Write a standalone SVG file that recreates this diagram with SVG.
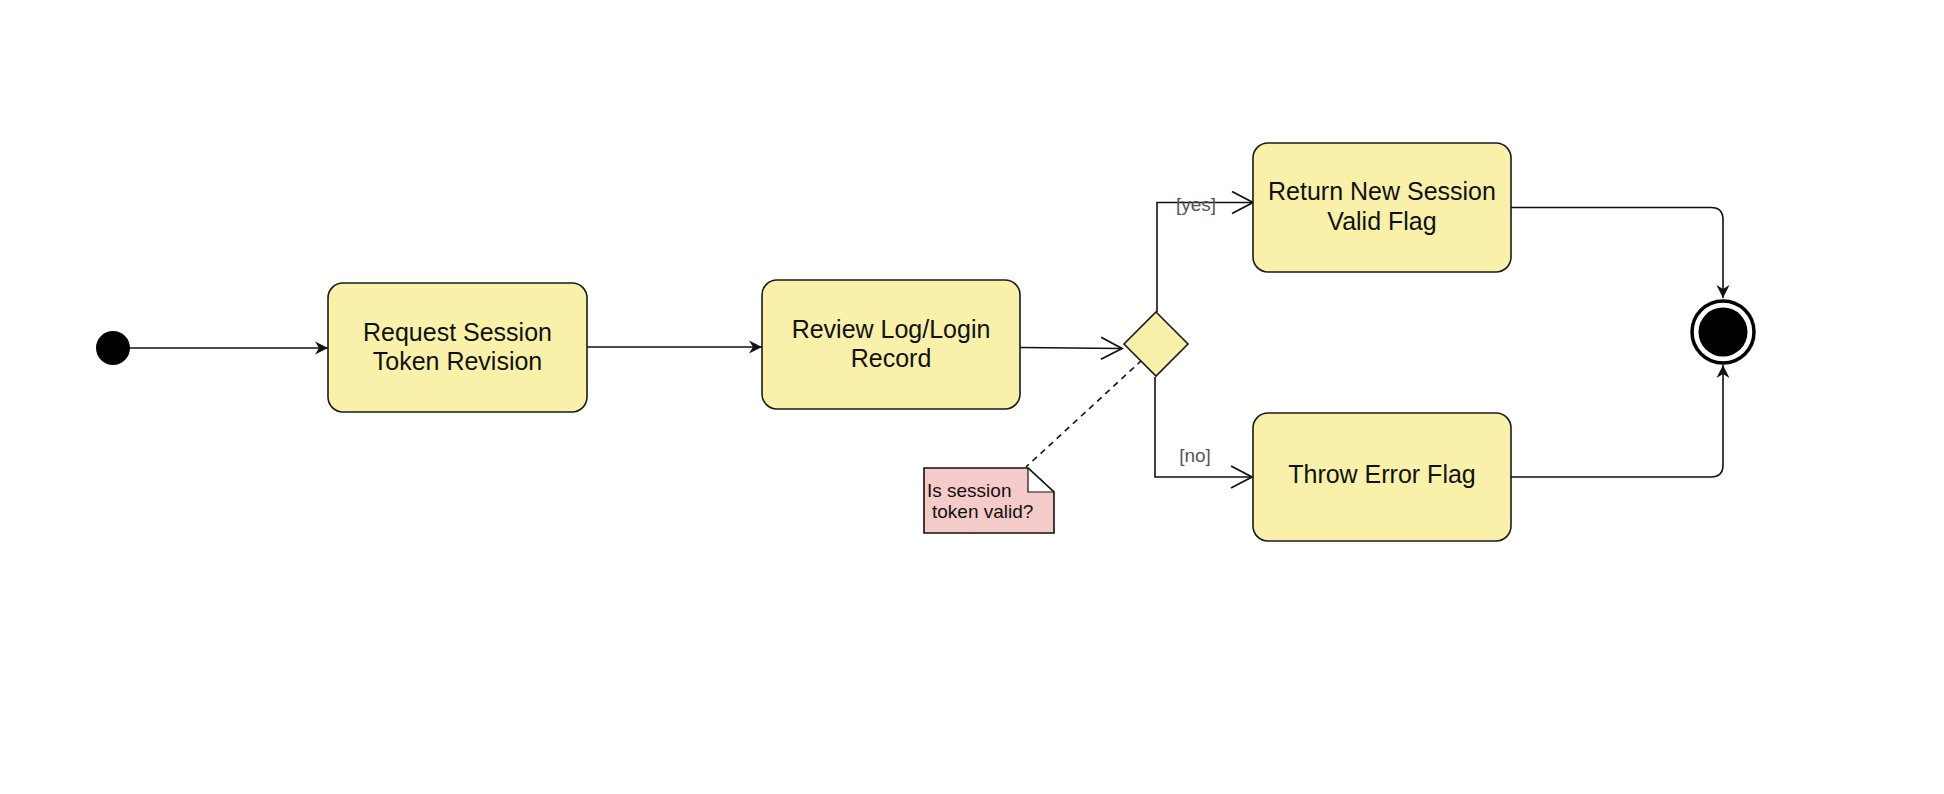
<svg xmlns="http://www.w3.org/2000/svg" width="1944" height="794" viewBox="0 0 1944 794">
<style>
.act{fill:#F9F1AA;stroke:#1a1a1a;stroke-width:1.6}
.t{font-family:"Liberation Sans",Arial,sans-serif;font-size:25px;fill:#111;text-anchor:middle}
.lbl{font-family:"Liberation Sans",Arial,sans-serif;font-size:19px;fill:#555;text-anchor:middle}
.nt{font-family:"Liberation Sans",Arial,sans-serif;font-size:19px;fill:#111}
.ln{fill:none;stroke:#111;stroke-width:1.6}
.dash{fill:none;stroke:#111;stroke-width:1.6;stroke-dasharray:6,5}
</style>
<defs>
<marker id="fill" markerWidth="16" markerHeight="16" refX="13" refY="7" orient="auto" markerUnits="userSpaceOnUse" viewBox="0 0 16 14">
<path d="M13,7 L0,0.5 L4,7 L0,13.5 Z" fill="#111"/>
</marker>
<marker id="open" markerWidth="26" markerHeight="26" refX="22" refY="12" orient="auto" markerUnits="userSpaceOnUse" viewBox="0 0 26 24">
<path d="M1,1 L22,12 L1,23" fill="none" stroke="#111" stroke-width="1.8"/>
</marker>
</defs>
<rect width="1944" height="794" fill="#fff"/>
<g id="connectors">
<line class="ln" x1="130" y1="348" x2="328" y2="348" marker-end="url(#fill)"/>
<line class="ln" x1="587" y1="347" x2="762" y2="347" marker-end="url(#fill)"/>
<line class="ln" x1="1020" y1="347.5" x2="1122" y2="348.5" marker-end="url(#open)"/>
<path class="ln" d="M1157,312 L1157,202.5 L1253,202.5" marker-end="url(#open)"/>
<path class="ln" d="M1155,377 L1155,477 L1252,477" marker-end="url(#open)"/>
<path class="ln" d="M1511,207.5 L1711,207.5 Q1723,207.5 1723,219.5 L1723,298" marker-end="url(#fill)"/>
<path class="ln" d="M1511,477 L1711,477 Q1723,477 1723,465 L1723,365" marker-end="url(#fill)"/>
<line class="dash" x1="1142" y1="360" x2="1026" y2="467"/>
<text class="lbl" x="1196" y="211">[yes]</text>
<text class="lbl" x="1195" y="462">[no]</text>
</g>
<g id="start">
<circle cx="113" cy="348" r="17" fill="#000"/>
</g>
<g id="request">
<rect class="act" x="328" y="283" width="259" height="129" rx="15"/>
<text class="t" x="457.5" y="341">Request Session</text>
<text class="t" x="457.5" y="370">Token Revision</text>
</g>
<g id="review">
<rect class="act" x="762" y="280" width="258" height="129" rx="15"/>
<text class="t" x="891" y="338">Review Log/Login</text>
<text class="t" x="891" y="367">Record</text>
</g>
<g id="decision">
<polygon class="act" points="1156,312 1188,344 1156,376 1124,344"/>
</g>
<g id="note">
<path d="M924,468 L1028,468 L1054,492 L1054,533 L924,533 Z" fill="#F5CBC9" stroke="#111" stroke-width="1.6"/>
<path d="M1028,468 L1028,492 L1054,492" fill="#fff" stroke="#111" stroke-width="1.2"/>
<path d="M1028,468 L1054,492" fill="none" stroke="#111" stroke-width="1.6"/>
<text class="nt" x="927" y="497">Is session</text>
<text class="nt" x="932" y="518">token valid?</text>
</g>
<g id="return">
<rect class="act" x="1253" y="143" width="258" height="129" rx="15"/>
<text class="t" x="1382" y="200">Return New Session</text>
<text class="t" x="1382" y="230">Valid Flag</text>
</g>
<g id="throw">
<rect class="act" x="1253" y="413" width="258" height="128" rx="15"/>
<text class="t" x="1382" y="483">Throw Error Flag</text>
</g>
<g id="end">
<circle cx="1723" cy="332" r="31" fill="#fff" stroke="#000" stroke-width="3.5"/>
<circle cx="1723" cy="332" r="24.5" fill="#000"/>
</g>
</svg>
